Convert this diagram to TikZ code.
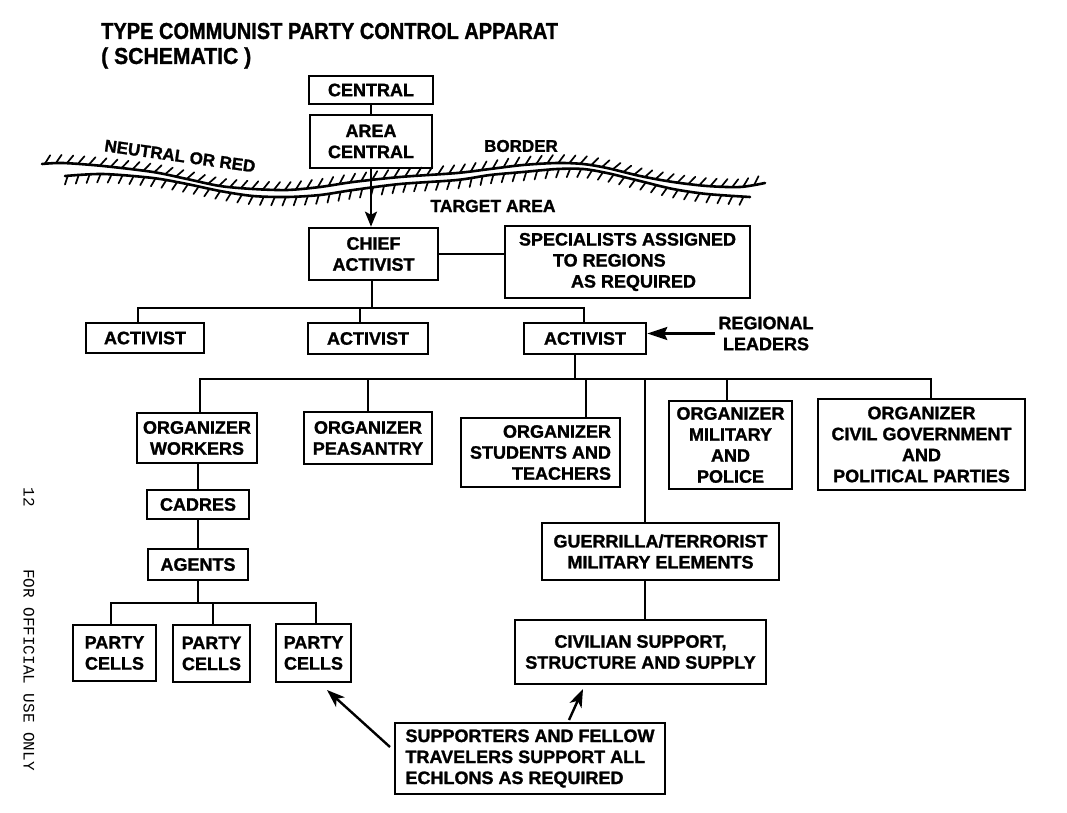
\documentclass[tikz,border=0pt]{standalone}
\usepackage{fontspec}
\setmainfont{Liberation Sans}[BoldFeatures={FakeBold=1.3}]
\setmonofont{Liberation Mono}
\usetikzlibrary{arrows.meta,decorations.markings}
\newcommand\bxfont{\bfseries\fontsize{18}{21}\selectfont}
\begin{document}
\begin{tikzpicture}[x=1pt,y=-1pt,
  box/.style={draw, line width=2.6pt, inner sep=0pt, align=center, font=\bxfont},
  conn/.style={line width=2.3pt},
  arr/.style={line width=2.4pt,-{Stealth[length=18pt,width=13pt,inset=5pt]}},
  lbl/.style={inner sep=0pt, font=\bxfont},
  upticks/.style={postaction={decorate},decoration={markings,
     mark=between positions 0.004 and 0.996 step 11pt with {\draw[line width=1.7pt, line cap=round] (0pt,0pt) -- (6pt,8pt);}}},
  downticks/.style={postaction={decorate},decoration={markings,
     mark=between positions 0.004 and 0.996 step 11pt with {\draw[line width=1.7pt, line cap=round] (0pt,0pt) -- (-3.5pt,-8.5pt);}}},
  borderline/.style={line width=2.6pt, line cap=round},
]
\useasboundingbox[fill=white] (0,0) rectangle (1067,812);

% title
\node[anchor=west, inner sep=0pt, font=\bfseries\fontsize{23}{27}\selectfont] (title) at (101,31)
  {\scalebox{0.87}[1]{TYPE COMMUNIST PARTY CONTROL APPARAT}};
\node[anchor=west, inner sep=0pt, font=\bfseries\fontsize{23}{27}\selectfont] (sub) at (101,58)
  {\scalebox{0.92}[1]{( SCHEMATIC )}};

% side text
\node[rotate=-90, inner sep=0pt, font=\ttfamily\fontsize{16}{16}\selectfont] (pg) at (29,497) {12};
\node[rotate=-90, inner sep=0pt, font=\ttfamily\fontsize{16}{16}\selectfont] (fouo) at (29,670) {FOR OFFICIAL USE ONLY};

% border
\draw[borderline, upticks] plot[smooth, tension=0.5] coordinates {(42,164) (63,163) (103,166) (153,172) (187,179) (220,186) (253,189) (287,190) (320,187) (353,182) (400,177) (457,173) (490,169) (523,165) (557,163) (583,164) (607,168) (640,176) (673,182) (707,186) (740,187) (765,183)};
\draw[borderline, downticks] plot[smooth, tension=0.5] coordinates {(65,176) (103,174) (153,178) (187,184) (220,191) (253,196) (287,197) (320,195) (353,190) (400,184) (457,180) (490,175) (523,172) (557,169) (583,169) (607,173) (640,181) (673,189) (707,194) (750,197)};
\node[lbl, rotate=-8, font=\bfseries\fontsize{17}{20}\selectfont] (neutral) at (180,156) {NEUTRAL OR RED};
\node[lbl, font=\bfseries\fontsize{17}{20}\selectfont] (border) at (521,146) {BORDER};
\node[lbl, font=\bfseries\fontsize{17.5}{20}\selectfont] (target) at (493,206) {TARGET AREA};

% boxes
\node[box, minimum width=124, minimum height=28] (central) at (371,90) {CENTRAL};
\node[box, minimum width=122, minimum height=53] (area) at (371,141.5) {AREA\\CENTRAL};
\node[box, minimum width=129, minimum height=52] (chief) at (373.5,254) {CHIEF\\ACTIVIST};
\node[box, align=left, minimum width=245, minimum height=72] (spec) at (627.5,262)
  {SPECIALISTS ASSIGNED\\\hspace*{34pt}TO REGIONS\\\hspace*{52pt}AS REQUIRED};

\node[box, minimum width=118, minimum height=30] (act1) at (145,338) {ACTIVIST};
\node[box, minimum width=120, minimum height=31] (act2) at (368,338.5) {ACTIVIST};
\node[box, minimum width=122, minimum height=31] (act3) at (585,338.5) {ACTIVIST};
\node[lbl, inner sep=3pt, align=center] (reg) at (766,333.5) {REGIONAL\\LEADERS};

\node[box, minimum width=120, minimum height=50] (workers) at (197,438) {ORGANIZER\\WORKERS};
\node[box, minimum width=128, minimum height=52] (peas) at (368,438) {ORGANIZER\\PEASANTRY};
\node[box, align=right, minimum width=159, minimum height=69] (stud) at (540.5,452.5) {ORGANIZER\\STUDENTS AND\\TEACHERS};
\node[box, minimum width=123, minimum height=88] (mil) at (730.5,445) {ORGANIZER\\MILITARY\\AND\\POLICE};
\node[box, minimum width=207, minimum height=91] (civ) at (921.5,444.5) {ORGANIZER\\CIVIL GOVERNMENT\\AND\\POLITICAL PARTIES};

\node[box, minimum width=102, minimum height=29] (cadres) at (198,504.5) {CADRES};
\node[box, minimum width=100, minimum height=31] (agents) at (198,564.5) {AGENTS};
\node[box, minimum width=83, minimum height=56] (p1) at (114.5,653) {PARTY\\CELLS};
\node[box, minimum width=77, minimum height=57] (p2) at (211.5,653.5) {PARTY\\CELLS};
\node[box, minimum width=75, minimum height=58] (p3) at (313.5,653) {PARTY\\CELLS};

\node[box, minimum width=237, minimum height=57] (guer) at (660.5,551.5) {GUERRILLA/TERRORIST\\MILITARY ELEMENTS};
\node[box, minimum width=251, minimum height=64] (civsup) at (640.5,652) {CIVILIAN SUPPORT,\\STRUCTURE AND SUPPLY};
\node[box, align=left, minimum width=270, minimum height=71] (supp) at (530,758.5) {SUPPORTERS AND FELLOW\\TRAVELERS SUPPORT ALL\\ECHLONS AS REQUIRED};

% connectors
\draw[conn] (central.south) -- (area.north);
\draw[line width=2.4pt,-{Stealth[length=15pt,width=12pt,inset=3pt]}] (area.south) -- (area.south |- chief.north);
\draw[conn] (chief.east) -- (spec.west |- chief.east);

\coordinate (j1) at (372,308);
\draw[conn] ([xshift=-1.5]chief.south) -- ([xshift=-1.5]chief.south |- j1);
\draw[conn] ([xshift=-7]act1.north) |- (j1) -| ([xshift=-1]act3.north);
\draw[conn] ([xshift=-8]act2.north) -- ([xshift=-8]act2.north |- j1);
\draw[line width=2.4pt,-{Stealth[length=20pt,width=13pt,inset=3pt]}] (reg.west) -- (reg.west -| act3.east);

\coordinate (j2) at (575,379);
\draw[conn] ([xshift=-10]act3.south) -- ([xshift=-10]act3.south |- j2);
\draw[conn] ([xshift=3]workers.north) |- (j2) -| ([xshift=9.5]civ.north);
\draw[conn] (peas.north) -- (peas.north |- j2);
\draw[conn] ([xshift=45.5]stud.north) -- ([xshift=45.5]stud.north |- j2);
\draw[conn] ([xshift=-3.5]mil.north) -- ([xshift=-3.5]mil.north |- j2);
\draw[conn] ([xshift=-15.5]guer.north) -- ([xshift=-15.5]guer.north |- j2);
\draw[conn] ([xshift=-15.5]guer.south) -- ([xshift=-15.5]guer.south |- civsup.north);

\draw[conn] (cadres.north) -- (cadres.north |- workers.south);
\draw[conn] (agents.north) -- (agents.north |- cadres.south);
\coordinate (j3) at (198,603);
\draw[conn] (agents.south) -- (agents.south |- j3);
\draw[conn] ([xshift=-3.5]p1.north) |- (j3) -| ([xshift=2.5]p3.north);
\draw[conn] ([xshift=1.5]p2.north) -- ([xshift=1.5]p2.north |- j3);

\coordinate (a1s) at (390,747);
\coordinate (a1e) at (327,690);
\draw[arr] (a1s) -- (a1e);
\coordinate (a2s) at (569,720);
\coordinate (a2e) at (583,689);
\draw[arr] (a2s) -- (a2e);
\end{tikzpicture}
\end{document}
